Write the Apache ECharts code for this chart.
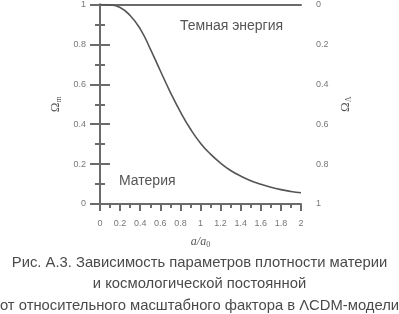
<!DOCTYPE html>
<html>
<head>
<meta charset="utf-8">
<script src="https://cdn.jsdelivr.net/npm/echarts@6/dist/echarts.min.js"></script>
<style>
  html, body { margin: 0; padding: 0; background: #fff; }
  #chart { width: 399px; height: 314px; }
</style>
</head>
<body>
<div id="chart"></div>
<script>
    var scaleFactor = [0, 0.1, 0.2, 0.3, 0.4, 0.5, 0.6, 0.7, 0.8, 0.9, 1.0,
        1.1, 1.2, 1.3, 1.4, 1.5, 1.6, 1.7, 1.8, 1.9, 2.0];
    var omegaMatter = [1, 0.998, 0.985, 0.945, 0.878, 0.778, 0.668, 0.56, 0.462, 0.376, 0.305,
        0.25, 0.205, 0.168, 0.14, 0.117, 0.099, 0.084, 0.072, 0.063, 0.056];
    var captionLines = [
        'Рис. А.3. Зависимость параметров плотности материи',
        'и космологической постоянной',
        'от относительного масштабного фактора в ΛCDM-модели'
    ];

    var chart = echarts.init(document.getElementById('chart'));
    var axisColor = '#6b6b6b';
    var labelStyle = {fontSize: 9, color: '#777', fontFamily: 'Liberation Sans'};

    var points = scaleFactor.map(function (a, i) {
        return [a, omegaMatter[i]];
    });

    var captionGraphics = captionLines.map(function (t, i) {
        return {
            type: 'text',
            left: 'center',
            top: 255 + i * 21.5,
            style: {
                text: t,
                font: '14.8px "Liberation Sans", sans-serif',
                fill: '#4a4a4a'
            }
        };
    });

    var options = {
        animation: false,
        grid: {left: 100, right: 98, top: 4, bottom: 110},
        xAxis: [{
            type: 'value',
            min: 0,
            max: 2,
            interval: 0.2,
            position: 'bottom',
            axisLine: {lineStyle: {color: axisColor, width: 2}},
            axisTick: {inside: false, length: 7, lineStyle: {color: axisColor, width: 2}},
            minorTick: {show: true, splitNumber: 2, length: 4, lineStyle: {color: axisColor, width: 2}},
            axisLabel: Object.assign({margin: 15}, labelStyle),
            splitLine: {show: false},
            name: '{it|a}{it|/a}{sub|0}',
            nameLocation: 'middle',
            nameGap: 31,
            nameTextStyle: {
                rich: {
                    it: {fontFamily: 'Liberation Serif', fontStyle: 'italic', fontSize: 12, color: '#555'},
                    sub: {fontFamily: 'Liberation Serif', fontSize: 8, color: '#555', verticalAlign: 'bottom', padding: [6, 0, 0, 0]}
                }
            }
        }, {
            type: 'value',
            min: 0,
            max: 2,
            position: 'top',
            axisLine: {lineStyle: {color: axisColor, width: 2}},
            axisTick: {show: false},
            axisLabel: {show: false},
            splitLine: {show: false}
        }],
        yAxis: [{
            type: 'value',
            min: 0,
            max: 1,
            interval: 0.2,
            position: 'left',
            axisLine: {show: true, lineStyle: {color: axisColor, width: 2}},
            axisTick: {show: true, inside: false, length: 10, lineStyle: {color: axisColor, width: 2}},
            minorTick: {show: true, splitNumber: 2, length: 5, lineStyle: {color: axisColor, width: 2}},
            axisLabel: Object.assign({margin: 14}, labelStyle),
            splitLine: {show: false},
            name: 'Ω{sub|m}',
            nameLocation: 'middle',
            nameGap: 33,
            nameRotate: 90,
            nameTextStyle: {
                fontFamily: 'Liberation Serif',
                fontSize: 13,
                color: '#555',
                rich: {
                    sub: {fontFamily: 'Liberation Serif', fontSize: 8, color: '#555', padding: [6, 0, 0, 0]}
                }
            }
        }, {
            type: 'value',
            min: 0,
            max: 1,
            interval: 0.2,
            inverse: true,
            position: 'right',
            axisLine: {show: true, lineStyle: {color: axisColor, width: 2}},
            axisTick: {show: true, inside: false, length: 10, lineStyle: {color: axisColor, width: 2}},
            minorTick: {show: true, splitNumber: 2, length: 5, lineStyle: {color: axisColor, width: 2}},
            axisLabel: Object.assign({margin: 15}, labelStyle),
            splitLine: {show: false},
            name: 'Ω{sub|Λ}',
            nameLocation: 'middle',
            nameGap: 23,
            nameRotate: 90,
            nameTextStyle: {
                fontFamily: 'Liberation Serif',
                fontSize: 13,
                color: '#555',
                rich: {
                    sub: {fontFamily: 'Liberation Serif', fontSize: 8, color: '#555', padding: [6, 0, 0, 0]}
                }
            }
        }],
        graphic: [{
            type: 'text',
            left: 180,
            top: 19,
            style: {text: 'Темная энергия', font: '14px "Liberation Sans", sans-serif', fill: '#555'}
        }, {
            type: 'text',
            left: 119,
            top: 174,
            style: {text: 'Материя', font: '14px "Liberation Sans", sans-serif', fill: '#555'}
        }].concat(captionGraphics),
        series: [{
            type: 'line',
            data: points,
            smooth: true,
            showSymbol: false,
            lineStyle: {color: '#555', width: 1.6},
            xAxisIndex: 0,
            yAxisIndex: 0
        }]
    };
    chart.setOption(options, true);
</script>
</body>
</html>
